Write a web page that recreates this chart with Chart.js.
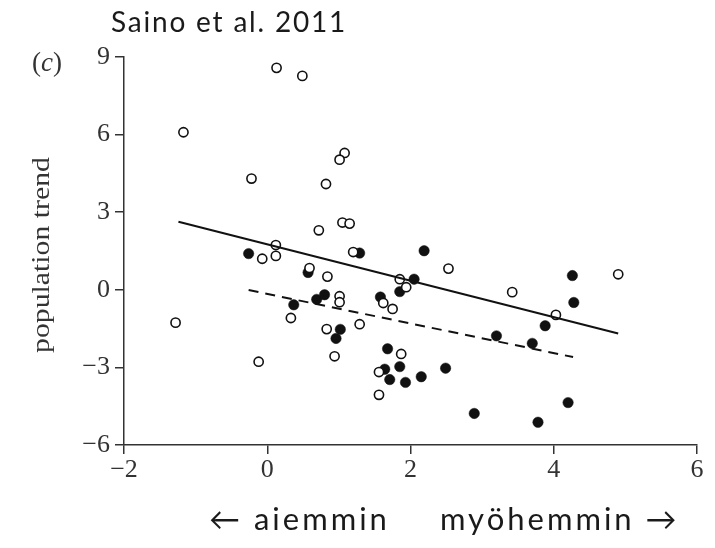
<!DOCTYPE html>
<html>
<head>
<meta charset="utf-8">
<script src="https://cdn.jsdelivr.net/npm/chart.js@4/dist/chart.umd.min.js"></script>
<style>
  html, body { margin: 0; padding: 0; background: #fff; }
  #wrap { position: relative; width: 715px; height: 548px; overflow: hidden; }
  #chart { position: absolute; left: 0; top: 0; }
  .lbl { position: absolute; white-space: nowrap; color: #1a1a1a; }
  #source { left: 111px; top: 4px; font: 28px Lato, sans-serif; letter-spacing: 1.8px; }
  #panel { left: 32px; top: 47px; font: 27px "Liberation Serif", serif; color: #333; }
  #ytitle { left: 41px; top: 255px; font: 25px "Liberation Serif", serif; color: #333;
            transform: translate(-50%, -50%) rotate(-90deg) scaleX(1.19); }
  #early { left: 209px; top: 499px; font: 31px Lato, sans-serif; letter-spacing: 3px; }
  #late { left: 440px; top: 499px; font: 31px Lato, sans-serif; letter-spacing: 3px; }
</style>
</head>
<body>
<div id="wrap">
  <canvas id="chart" width="715" height="548"></canvas>
  <div class="lbl" id="source">Saino et al. 2011</div>
  <div class="lbl" id="panel">(<i>c</i>)</div>
  <div class="lbl" id="ytitle">population trend</div>
  <div class="lbl" id="early">← aiemmin</div>
  <div class="lbl" id="late">myöhemmin →</div>
</div>
<script>
// tick labels
const xTicks = [-2, 0, 2, 4, 6];
const yTicks = [-6, -3, 0, 3, 6, 9];

// open circles
const openX = [-1.17, 0.13, 0.49, -0.22, 1.08, 1.01, 0.82, 1.05, 1.15, 0.72,
               0.12, 0.12, -0.07, 1.20, 0.59, 0.84, 1.85, 1.94, 1.01, 1.01,
               -1.28, -0.12, 0.33, 0.83, 0.94, 1.29, 1.62, 1.75, 1.56, 1.87,
               1.56, 2.53, 3.42, 4.03, 4.90];
const openY = [6.09, 8.58, 8.27, 4.30, 5.29, 5.03, 4.09, 2.60, 2.56, 2.30,
               1.73, 1.31, 1.20, 1.46, 0.84, 0.51, 0.41, 0.10, -0.25, -0.48,
               -1.27, -2.78, -1.09, -1.52, -2.57, -1.33, -0.51, -0.74, -3.18, -2.48,
               -4.06, 0.82, -0.09, -0.97, 0.60];

// filled circles
const filledX = [-0.26, 1.29, 0.57, 2.05, 1.85, 2.19, 0.37, 0.69, 0.80, 1.02,
                 0.96, 1.58, 1.68, 1.64, 1.71, 1.85, 1.93, 2.15, 2.49, 2.89,
                 3.20, 3.70, 3.88, 4.26, 4.28, 4.20, 3.78];
const filledY = [1.40, 1.42, 0.67, 0.41, -0.07, 1.51, -0.58, -0.37, -0.19, -1.53,
                 -1.88, -0.28, -2.28, -3.07, -3.47, -2.97, -3.58, -3.36, -3.03, -4.78,
                 -1.78, -2.07, -1.39, 0.55, -0.49, -4.36, -5.12];

// regression lines (end points)
const solidX = [-1.24, 4.90];
const solidY = [2.63, -1.69];
const dashX = [-0.26, 4.27];
const dashY = [-0.01, -2.60];

const pts = (xs, ys) => xs.map((x, i) => ({ x: x, y: ys[i] }));
const minus = v => String(v).replace('-', '\u2212');
const axisColor = '#333';
const tickFont = { family: '"Liberation Serif", serif', size: 26 };

new Chart(document.getElementById('chart'), {
    type: 'scatter',
    data: {
        datasets: [
            {
                label: 'solid',
                data: pts(solidX, solidY),
                showLine: true,
                borderColor: '#111',
                borderWidth: 2,
                pointRadius: 0
            },
            {
                label: 'dashed',
                data: pts(dashX, dashY),
                showLine: true,
                borderColor: '#111',
                borderWidth: 2,
                borderDash: [10, 7],
                pointRadius: 0
            },
            {
                label: 'open',
                data: pts(openX, openY),
                pointRadius: 4.6,
                pointBorderWidth: 1.6,
                backgroundColor: '#fff',
                borderColor: '#111'
            },
            {
                label: 'filled',
                data: pts(filledX, filledY),
                pointRadius: 5.2,
                pointBorderWidth: 0.5,
                backgroundColor: '#111',
                borderColor: '#111'
            }
        ]
    },
    options: {
        responsive: false,
        animation: false,
        devicePixelRatio: 1,
        layout: { padding: { top: 57, right: 18, left: 0, bottom: 0 } },
        plugins: {
            legend: { display: false },
            tooltip: { enabled: false }
        },
        scales: {
            x: {
                type: 'linear',
                min: -2,
                max: 6,
                afterBuildTicks: s => { s.ticks = xTicks.map(v => ({ value: v })); },
                afterFit: s => { s.height = 103; },
                border: { color: axisColor, width: 1.5 },
                grid: { drawOnChartArea: false, drawTicks: true, tickLength: 9, color: axisColor, lineWidth: 1.5 },
                ticks: { color: '#333', font: tickFont, padding: 1, callback: v => minus(v) }
            },
            y: {
                type: 'linear',
                min: -6,
                max: 9,
                afterBuildTicks: s => { s.ticks = yTicks.map(v => ({ value: v })); },
                afterFit: s => { s.width = 124; },
                border: { color: axisColor, width: 1.5 },
                grid: { drawOnChartArea: false, drawTicks: true, tickLength: 9, color: axisColor, lineWidth: 1.5 },
                ticks: { color: '#333', font: tickFont, padding: 5, callback: v => minus(v) }
            }
        }
    }
});
</script>
</body>
</html>
